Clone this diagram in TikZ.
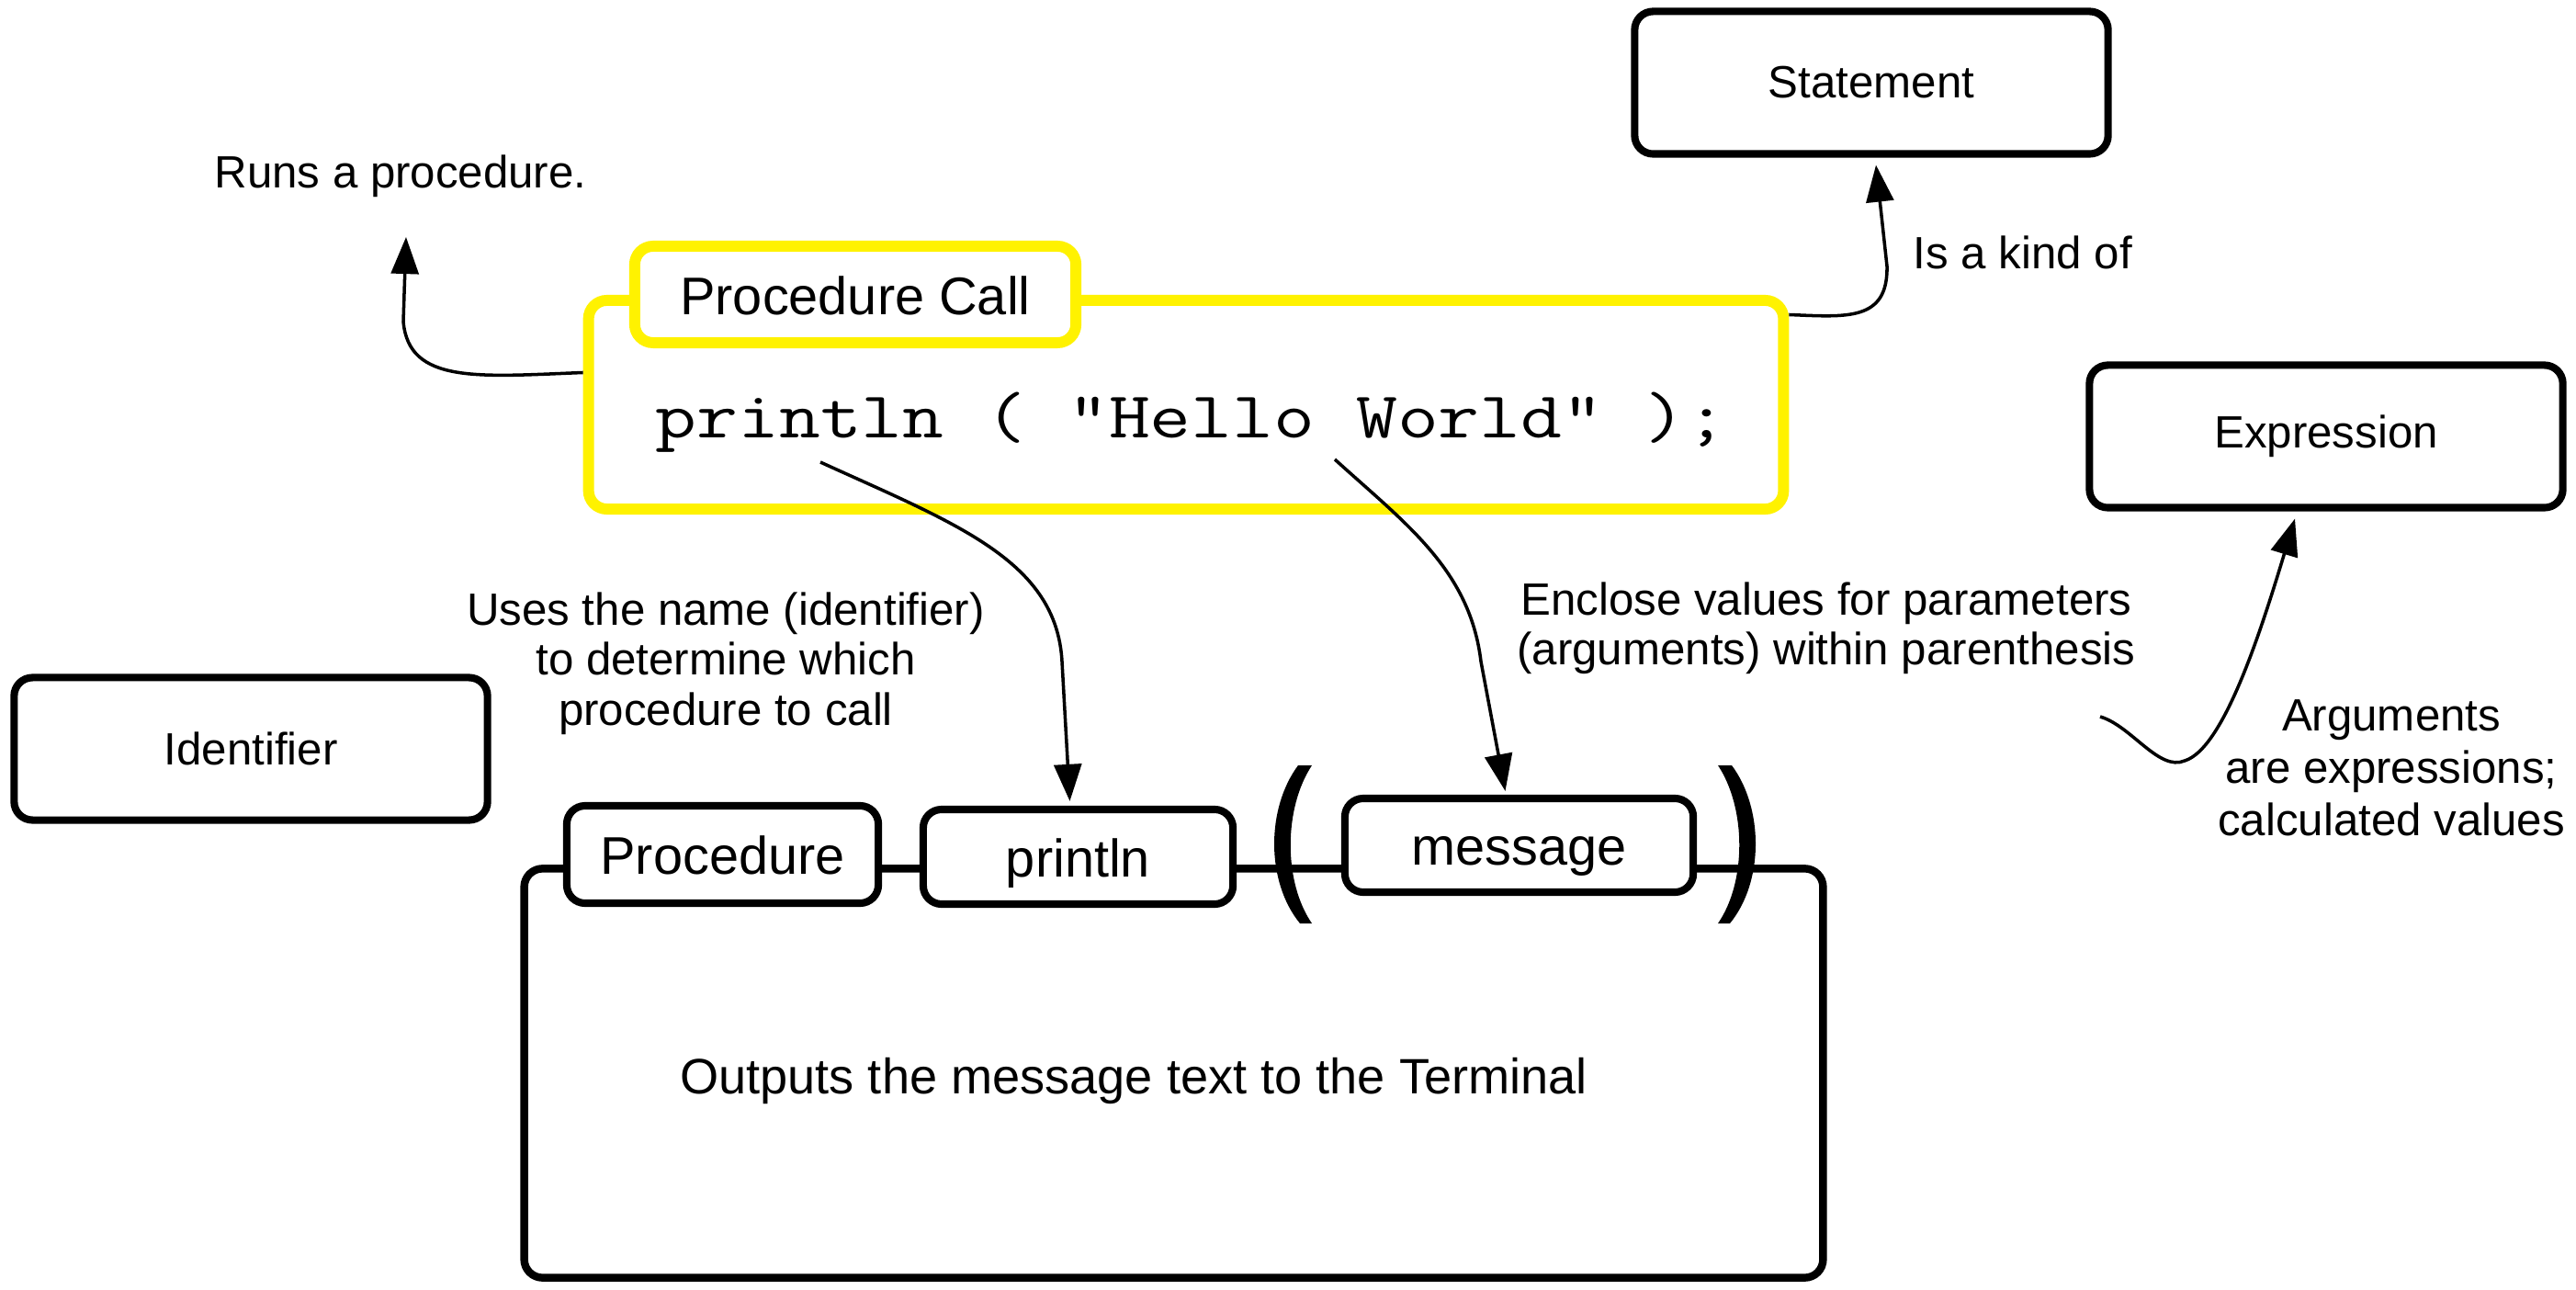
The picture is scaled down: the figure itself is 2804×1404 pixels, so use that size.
\documentclass[tikz,border=0pt]{standalone}
\usepackage{fontspec}
\usepackage{graphicx}
\setmainfont{Liberation Sans}
\usetikzlibrary{arrows.meta,calc}
\definecolor{procyellow}{RGB}{255,242,0}
\newcommand\dgLabel{\fontsize{14pt}{15.5pt}\selectfont}
\newcommand\dgArgs{\fontsize{14pt}{16.2pt}\selectfont}
\newcommand\dgTab{\fontsize{16.4pt}{19pt}\selectfont}
\newcommand\dgOut{\fontsize{15.4pt}{18pt}\selectfont}
\newcommand\dgCode{\fontsize{20.3pt}{24pt}\selectfont\ttfamily}
\begin{document}
\begin{tikzpicture}[x=0.01cm,y=-0.01cm,
  conceptbox/.style={draw, line width=2.3pt, rounded corners=0.2cm,
    minimum width=5.15cm, minimum height=1.55cm, inner sep=0pt, font=\dgLabel},
  tabbox/.style={draw, fill=white, line width=2.3pt, rounded corners=0.2cm,
    inner sep=0pt, font=\dgTab, text height=12.4pt, text depth=0pt},
  yellowbox/.style={draw=procyellow, line width=3.4pt, rounded corners=0.2cm, inner sep=0pt},
  note/.style={font=\dgLabel, align=center, inner sep=0pt},
  conn/.style={line width=1pt, -{Triangle[length=11.4pt,width=8.5pt]}}
]
\useasboundingbox (0,0) rectangle (2804,1404);

% concept boxes
\node[conceptbox] (stmt) at (2037,90) {Statement};
\node[conceptbox] (expr) at (2532,475) {Expression};
\node[conceptbox] (ident) at (273,815) {Identifier};

% procedure call (yellow)
\node[yellowbox, minimum width=13.0cm, minimum height=2.27cm] (main) at (1291,440.5) {};
\node[yellowbox, fill=white, minimum width=4.8cm, minimum height=1.05cm,
  font=\dgTab, text height=12.4pt, text depth=0pt] (pctab) at (931,320.5) {Procedure Call};
\node[anchor=base west, inner sep=0pt] (code) at (713,477)
  {\dgCode\scalebox{1.22}[1]{println ( "Hello World" );}};

% procedure box
\node[draw, line width=2.4pt, rounded corners=0.2cm, minimum width=14.13cm,
  minimum height=4.45cm, inner sep=0pt] (proc) at (1277.5,1168) {};
\node[tabbox, minimum width=3.39cm, minimum height=1.06cm] (prtab) at (786.5,930) {Procedure};
\node[tabbox, minimum width=3.37cm, minimum height=1.03cm] (ptab) at (1173.5,932.5) {println};
\node[tabbox, minimum width=3.79cm, minimum height=1.02cm] (mtab) at (1653.5,920) {message};
\node[font=\dgOut, anchor=base, inner sep=0pt] (outp) at (1234,1190)
  {Outputs the message text to the Terminal};

% parentheses
\fill (1413,833) .. controls (1378,880) and (1378,960) .. (1415,1005)
  -- (1428,1005) .. controls (1397,960) and (1397,880) .. (1428,833) -- cycle;
\fill (1885,833) .. controls (1920,880) and (1920,960) .. (1883,1005)
  -- (1870,1005) .. controls (1901,960) and (1901,880) .. (1870,833) -- cycle;

% labels
\node[note, anchor=base] (runs) at (436,205) {Runs a procedure.};
\node[note, anchor=base] (kind) at (2202,293) {Is a kind of};
\node[note] (uses) at (790,722) {Uses the name (identifier)\\to determine which\\procedure to call};
\node[note] (encl) at (1988,684) {Enclose values for parameters\\(arguments) within parenthesis};
\node[note, font=\dgArgs] (args) at (2603,836) {Arguments\\are expressions;\\calculated values};

% connectors
\draw[conn] ($(main.west)+(0,-35)$) .. controls (520,410) and (445,418) .. (439,350)
  -- ($(runs.base)+(6,53)$);
\draw[conn] ($(main.east)+(0,-98)$) .. controls (2010,345) and (2055,350) .. (2054,290)
  -- ($(stmt.south)+(5,8)$);
\draw[conn] ($(code.base west)+(180,26)$) .. controls (1040,570) and (1150,610) .. (1156,720)
  -- ($(ptab.north)+(-9,-5)$);
\draw[conn] ($(code.base west)+(740,23)$) .. controls (1530,570) and (1600,620) .. (1612,720)
  -- ($(mtab.north)+(-15,-4)$);
\coordinate (argstart) at (2286,780);
\draw[conn] (argstart) .. controls (2320,790) and (2350,840) .. (2378,828)
  .. controls (2420,815) and (2460,690) .. ($(expr.south)+(-34,8)$);
\end{tikzpicture}
\end{document}
